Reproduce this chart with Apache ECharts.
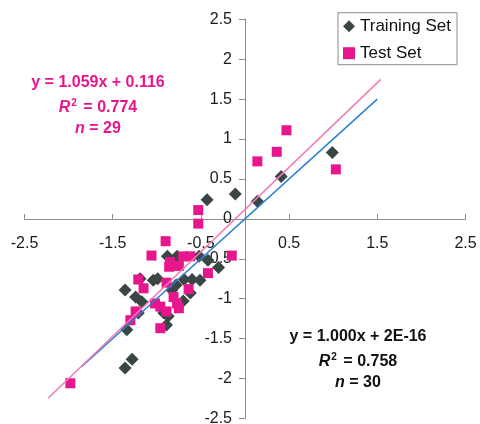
<!DOCTYPE html>
<html><head><meta charset="utf-8">
<script src="https://cdn.jsdelivr.net/npm/echarts@6/dist/echarts.min.js"></script>
<style>html,body{margin:0;padding:0;background:#fff}#c{width:480px;height:424px}</style>
</head><body><div id="c"></div>
<script>
// Training set (diamonds)
const trainX = [0.99, 0.41, 0.14, -0.11, -0.43, -0.88, -0.77, -0.52, -0.42, -0.30, -0.51, -0.69, -1.04, -1.36, -1.24, -1.17, -0.83, -0.70, -1.21, -0.92, -0.89, -1.34, -1.28, -1.36, -0.78, -0.60, -0.87, -0.62, -1.19, -0.99];
const trainY = [0.83, 0.53, 0.22, 0.31, 0.24, -0.47, -0.47, -0.47, -0.52, -0.61, -0.77, -0.76, -0.77, -0.89, -0.98, -1.04, -0.89, -1.03, -1.18, -1.18, -1.33, -1.39, -1.76, -1.87, -0.83, -0.76, -1.22, -0.93, -0.75, -0.75];
// Test set (squares)
const testX = [0.14, 0.36, 0.47, 1.03, -0.53, -0.53, -0.90, -1.06, -0.85, -0.75, -0.62, -0.15, -0.42, -0.64, -1.21, -1.15, -0.89, -0.81, -0.77, -1.02, -0.96, -0.89, -0.75, -1.24, -1.30, -0.96, -1.98, -0.70, -0.86];
const testY = [0.72, 0.84, 1.11, 0.62, 0.11, -0.06, -0.28, -0.46, -0.54, -0.59, -0.47, -0.46, -0.68, -0.88, -0.76, -0.87, -0.80, -0.98, -1.06, -1.06, -1.10, -1.16, -1.12, -1.16, -1.27, -1.37, -2.06, -0.47, -0.60];
// Trendline end points
const trainFitX = [-1.85, 1.50];
const trainFitY = [-1.85, 1.50];
const testFitX = [-2.23, 1.54];
const testFitY = [-2.245, 1.747];
// Annotation texts
const testEq = ['y = 1.059x + 0.116', '0.774', '29'];
const trainEq = ['y = 1.000x + 2E-16', '0.758', '30'];
const seriesNames = ['Training Set', 'Test Set'];

const zip = (a, b) => a.map((v, i) => [v, b[i]]);
const PINK = '#e8168c', DARK = '#3a4646';
const FONT = '"Liberation Sans", Arial, sans-serif';

function eqGraphics(lines, cx, ys, color) {
  const base = {fontFamily: FONT, fontWeight: 'bold', fontSize: 16, fill: color, align: 'center', verticalAlign: 'middle'};
  return [
    {type: 'text', x: cx, y: ys[0], z: 100, style: Object.assign({}, base, {text: lines[0]})},
    {type: 'text', x: cx, y: ys[1], z: 100, style: Object.assign({}, base, {
      text: '{i|R}{s|2}{b| = ' + lines[1] + '}',
      rich: {
        i: {fontFamily: FONT, fontWeight: 'bold', fontStyle: 'italic', fontSize: 16, fill: color},
        s: {fontFamily: FONT, fontWeight: 'bold', fontSize: 10, fill: color, padding: [0, 2, 9, 1]},
        b: {fontFamily: FONT, fontWeight: 'bold', fontSize: 16, fill: color}
      }})},
    {type: 'text', x: cx, y: ys[2], z: 100, style: Object.assign({}, base, {
      text: '{i|n}{b| = ' + lines[2] + '}',
      rich: {
        i: {fontFamily: FONT, fontWeight: 'bold', fontStyle: 'italic', fontSize: 16, fill: color},
        b: {fontFamily: FONT, fontWeight: 'bold', fontSize: 16, fill: color}
      }})}
  ];
}

const chart = echarts.init(document.getElementById('c'), null, {renderer: 'canvas'});
const GRID = {left: 24.5, right: 14.5, top: 19.3, bottom: 5.6};
const axisCommon = {
  type: 'value', min: -2.5, max: 2.5,
  splitLine: {show: false},
  axisLine: {show: true, onZero: false, lineStyle: {color: '#8c8c8c', width: 1}},
  axisTick: {show: true, length: 6, lineStyle: {color: '#8c8c8c'}},
  axisLabel: {color: '#1a1a1a', fontSize: 16, fontFamily: FONT}
};
function buildOption(xOff, yOff) {
  return {
    animation: false,
    backgroundColor: '#fff',
    grid: Object.assign({containLabel: false, outerBoundsMode: 'none'}, GRID),
    xAxis: Object.assign({}, axisCommon, {
      interval: 1, offset: xOff,
      axisTick: {show: true, inside: true, length: 5, lineStyle: {color: '#8c8c8c'}},
      axisLabel: Object.assign({}, axisCommon.axisLabel, {margin: 17, formatter: v => String(v)})
    }),
    yAxis: Object.assign({}, axisCommon, {
      interval: 0.5, offset: yOff,
      axisLabel: Object.assign({}, axisCommon.axisLabel, {margin: 13, formatter: v => String(v)})
    }),
    legend: {
      data: [{name: seriesNames[0], icon: 'diamond'}, {name: seriesNames[1], icon: 'rect'}],
      orient: 'vertical', left: 338, top: 12.7,
      padding: [5, 6, 3, 5],
      itemWidth: 12, itemHeight: 12, itemGap: 10,
      borderColor: '#8c8c8c', borderWidth: 1, backgroundColor: '#fff',
      textStyle: {fontSize: 17, lineHeight: 16, color: '#111', fontFamily: FONT}
    },
    series: [
      {name: seriesNames[0], type: 'scatter', symbol: 'diamond', symbolSize: 13,
       itemStyle: {color: DARK, opacity: 1}, data: zip(trainX, trainY), z: 2},
      {name: seriesNames[1], type: 'scatter', symbol: 'rect', symbolSize: 10,
       itemStyle: {color: PINK, opacity: 1}, data: zip(testX, testY), z: 3},
      {name: 'trainFit', type: 'line', data: zip(trainFitX, trainFitY), symbol: 'none',
       lineStyle: {color: '#2a7fd0', width: 1.5}, z: 4, silent: true},
      {name: 'testFit', type: 'line', data: zip(testFitX, testFitY), symbol: 'none',
       lineStyle: {color: '#f07ab6', width: 1.5}, z: 5, silent: true}
    ],
    graphic: eqGraphics(testEq, 98, [83, 107.5, 129], PINK).concat(eqGraphics(trainEq, 358, [337, 361.5, 383], '#111'))
  };
}
chart.setOption(buildOption(0, 0));
// Move both axes (line, ticks, labels) to cross at the origin
const origin = chart.convertToPixel({gridIndex: 0}, [0, 0]);
const H = 424, W = 480;
const gridLeftPx = GRID.left, gridBottomPx = H - GRID.bottom;
chart.setOption(buildOption(-(gridBottomPx - origin[1]), -(origin[0] - gridLeftPx)));
</script></body></html>
